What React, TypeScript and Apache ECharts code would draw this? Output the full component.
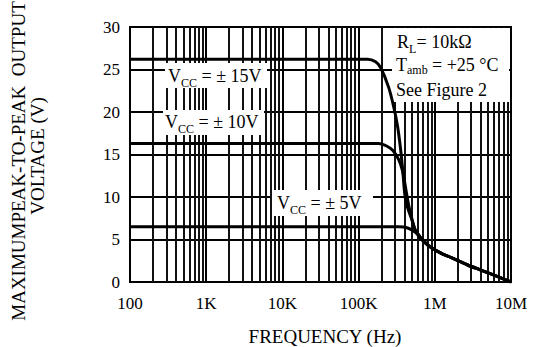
import React, { useEffect, useRef } from "react";
import * as echarts from "echarts";

// Tick labels
const xTickLabels = ["100", "1K", "10K", "100K", "1M", "10M"];
const yTicks = [0, 5, 10, 15, 20, 25, 30];

// Log-grid structure (decades and in-decade multipliers)
const decades = [100, 1000, 10000, 100000, 1000000];
const multipliers = [2, 3, 4, 5, 6, 7, 8, 9];

// VCC = ±15V curve (frequency Hz, peak-to-peak volts)
const freq15 = [100, 1000, 10000, 100000, 131000, 167000, 195000, 248000, 289000, 326000, 357000, 379000, 415000, 514000, 562000, 809000, 1200000, 1620000, 2700000, 4030000, 6000000, 10000000];
const volt15 = [26.2, 26.2, 26.2, 26.2, 26.2, 25.9, 25.2, 22.9, 20.6, 18.2, 15.5, 13.2, 9.6, 7.0, 6.0, 4.35, 3.4, 2.9, 2.0, 1.4, 0.8, 0];

// VCC = ±10V curve
const freq10 = [100, 1000, 10000, 100000, 183000, 233000, 280000, 336000, 379000, 415000, 455000, 498000, 562000, 809000, 1200000, 1620000, 2700000, 4030000, 6000000, 10000000];
const volt10 = [16.3, 16.3, 16.3, 16.3, 16.3, 16.0, 15.5, 14.4, 13.0, 11.0, 9.0, 7.5, 6.0, 4.35, 3.4, 2.9, 2.0, 1.4, 0.8, 0];

// VCC = ±5V curve
const freq5 = [100, 1000, 10000, 100000, 336000, 441000, 562000, 650000, 809000, 1200000, 1620000, 2700000, 4030000, 6000000, 10000000];
const volt5 = [6.5, 6.5, 6.5, 6.5, 6.5, 6.35, 5.8, 5.1, 4.35, 3.4, 2.9, 2.0, 1.4, 0.8, 0];

const FONT = "Liberation Serif, serif";

const pair = (xs: number[], ys: number[]) => xs.map((x, i) => [x, ys[i]]);

function curve(name: string, xs: number[], ys: number[]) {
  return {
    name,
    type: "line",
    data: pair(xs, ys),
    showSymbol: false,
    symbol: "none",
    smooth: 0.3,
    z: 200,
    lineStyle: { color: "#000", width: 3 },
    silent: true,
  };
}

function box(x: number, y: number, w: number, h: number) {
  return { type: "rect", z: 100, silent: true, shape: { x, y, width: w, height: h }, style: { fill: "#fff", stroke: null } };
}

function txt(x: number, y: number, text: string, size: number) {
  return {
    type: "text",
    x,
    y,
    z: 110,
    silent: true,
    style: { text, fontFamily: FONT, fontSize: size, fill: "#000", align: "left", verticalAlign: "middle" },
  };
}

// main symbol + subscript + rest, as three texts; (x, y) = center-left of main text
function subbed(x: number, y: number, main: string, sub: string, rest: string, mainW: number, subW: number, off = 6.5) {
  return [
    txt(x, y, main, 18),
    txt(x + mainW, y + off, sub, 12),
    txt(x + mainW + subW, y, rest, 18),
  ];
}

export default function App() {
  const ref = useRef<HTMLDivElement>(null);
  useEffect(() => {
    if (!ref.current) return;
    const chart = echarts.init(ref.current, null, { renderer: "svg" });
    const minorLines: { xAxis: number }[] = [];
    decades.forEach((d) => multipliers.forEach((m) => minorLines.push({ xAxis: d * m })));

    chart.setOption({
      animation: false,
      backgroundColor: "#fff",
      grid: {
        left: 130,
        right: 23,
        top: 27,
        bottom: 65,
        show: true,
        borderColor: "#000",
        borderWidth: 2,
        backgroundColor: "transparent",
      },
      xAxis: {
        type: "log",
        logBase: 10,
        min: 100,
        max: 10000000,
        axisLine: { show: true, lineStyle: { color: "#000", width: 2 } },
        axisTick: { show: false },
        splitLine: { show: true, lineStyle: { color: "#000", width: 2 } },
        axisLabel: {
          color: "#000",
          fontFamily: FONT,
          fontSize: 17,
          margin: 13,
          formatter: (v: number) => xTickLabels[Math.round(Math.log10(v)) - 2] ?? "",
        },
      },
      yAxis: {
        type: "value",
        min: yTicks[0],
        max: yTicks[yTicks.length - 1],
        interval: 5,
        axisLine: { show: true, lineStyle: { color: "#000", width: 2 } },
        axisTick: { show: false },
        splitLine: { show: true, lineStyle: { color: "#000", width: 2 } },
        axisLabel: { color: "#000", fontFamily: FONT, fontSize: 17, margin: 10 },
      },
      series: [
        {
          name: "grid",
          type: "line",
          data: [],
          z: 1,
          silent: true,
          markLine: {
            silent: true,
            symbol: ["none", "none"],
            label: { show: false },
            lineStyle: { color: "#111", width: 2, type: "solid" },
            data: minorLines,
          },
        },
        curve("±15V", freq15, volt15),
        curve("±10V", freq10, volt10),
        curve("±5V", freq5, volt5),
      ],
      graphic: {
        elements: [
          box(165, 63, 102, 25),
          ...subbed(168, 76, "V", "CC", " = ± 15V", 13, 16),
          box(163, 110, 101, 25),
          ...subbed(165, 122, "V", "CC", " = ± 10V", 13, 16),
          box(272, 190, 101, 26),
          ...subbed(277, 203, "V", "CC", " = ± 5V", 13, 16),
          box(392, 28, 117, 74),
          ...subbed(397, 42, "R", "L", "= 10kΩ", 12, 7.5),
          ...subbed(396, 65, "T", "amb", " = +25 °C", 11, 20.5, 5),
          txt(396, 90, "See Figure 2", 18),
          {
            type: "text", x: 18, y: 161, rotation: Math.PI / 2, z: 110,
            style: { text: "MAXIMUMPEAK-TO-PEAK  OUTPUT", fontFamily: FONT, fontSize: 19, fill: "#000", align: "center", verticalAlign: "middle" },
          },
          {
            type: "text", x: 37, y: 156, rotation: Math.PI / 2, z: 110,
            style: { text: "VOLTAGE (V)", fontFamily: FONT, fontSize: 19, fill: "#000", align: "center", verticalAlign: "middle" },
          },
          {
            type: "text", x: 325, y: 336, z: 110,
            style: { text: "FREQUENCY (Hz)", fontFamily: FONT, fontSize: 19, fill: "#000", align: "center", verticalAlign: "middle" },
          },
        ],
      },
    });
    return () => chart.dispose();
  }, []);
  return <div ref={ref} style={{ position: "fixed", left: 0, top: 0, width: 534, height: 347 }} />;
}
